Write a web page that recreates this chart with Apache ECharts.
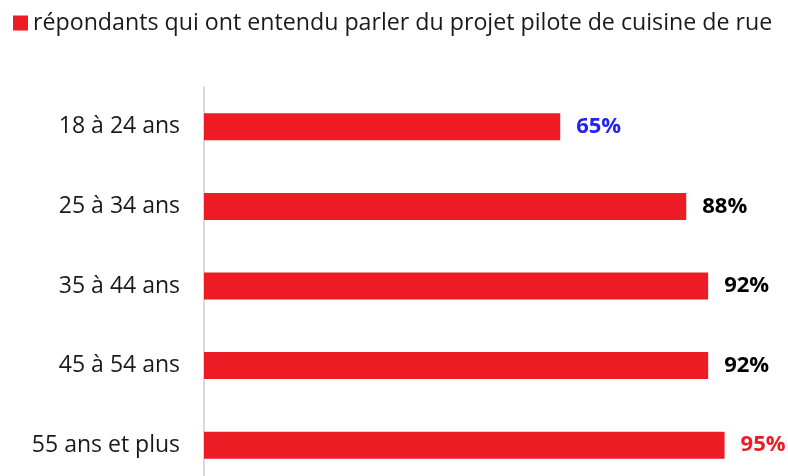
<!DOCTYPE html>
<html>
<head>
<meta charset="utf-8">
<script src="https://cdn.jsdelivr.net/npm/echarts@6/dist/echarts.min.js"></script>
<style>
  html, body { margin: 0; padding: 0; background: #fff; }
  #main { width: 788px; height: 476px; }
</style>
</head>
<body>
<div id="main"></div>
<script type="text/javascript">
    // données
    var categories = ['18 à 24 ans', '25 à 34 ans', '35 à 44 ans', '45 à 54 ans', '55 ans et plus'];
    var values = [65, 88, 92, 92, 95];
    var labelColors = ['#2323f0', '#000000', '#000000', '#000000', '#ed1c24'];
    var seriesName = 'répondants qui ont entendu parler du projet pilote de cuisine de rue';

    var myChart = echarts.init(document.getElementById('main'));

    var barData = values.map(function (v, i) {
        return { value: v, label: { color: labelColors[i] } };
    });

    var option = {
        animation: false,
        textStyle: { fontFamily: 'Open Sans' },
        legend: {
            data: [seriesName],
            left: 13,
            top: 11,
            padding: 0,
            icon: 'rect',
            itemWidth: 15,
            itemHeight: 15,
            itemGap: 6,
            textStyle: { fontSize: 23.2, lineHeight: 24, color: '#1a1a1a', fontFamily: 'Open Sans' }
        },
        grid: {
            left: 204,
            width: 548,
            top: 87,
            height: 398,
            outerBoundsMode: 'none',
            containLabel: false
        },
        xAxis: {
            type: 'value',
            min: 0,
            max: 100,
            show: false
        },
        yAxis: {
            type: 'category',
            inverse: true,
            data: categories,
            axisLine: { show: true, lineStyle: { color: '#d9d9d9', width: 2 } },
            axisTick: { show: false },
            axisLabel: { margin: 24, fontSize: 23, color: '#1a1a1a', fontFamily: 'Open Sans' }
        },
        series: [
            {
                name: seriesName,
                type: 'bar',
                barWidth: 27,
                itemStyle: { color: '#ed1c24' },
                label: {
                    show: true,
                    position: 'right',
                    distance: 16,
                    formatter: '{c}%',
                    fontSize: 22,
                    fontWeight: 'bold',
                    fontFamily: 'Open Sans'
                },
                data: barData
            }
        ]
    };

    myChart.setOption(option);
</script>
</body>
</html>
